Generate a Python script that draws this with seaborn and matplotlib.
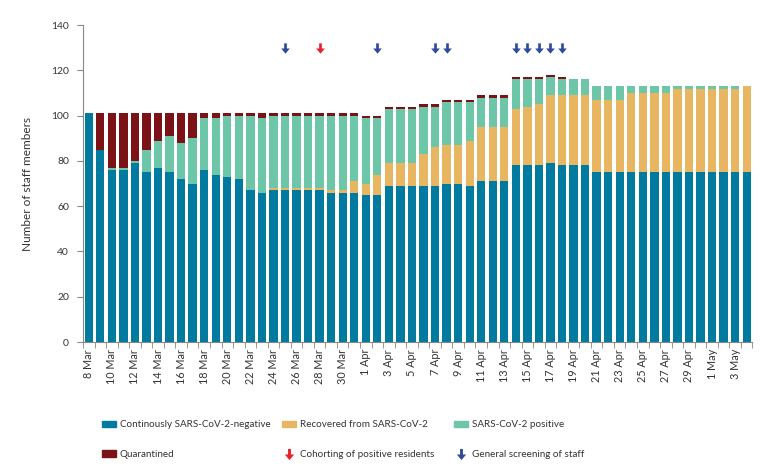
import numpy as np
import pandas as pd
import matplotlib
matplotlib.use("Agg")
import matplotlib.pyplot as plt
from matplotlib.lines import Line2D
from matplotlib.patches import Patch
import seaborn as sns

# Data: staff status per day, 8 Mar - 4 May
dates = pd.date_range("2020-03-08", "2020-05-04", freq="D")
day_labels = [f"{d.day} {d.strftime('%b')}" for d in dates]

negative = [101, 85, 76, 76, 79, 75, 77, 75, 72, 70, 76, 74, 73, 72, 67, 66,
            67, 67, 67, 67, 67, 66, 66, 66, 65, 65, 69, 69, 69, 69, 69, 70,
            70, 69, 71, 71, 71, 78, 78, 78, 79, 78, 78, 78,
            75, 75, 75, 75, 75, 75, 75, 75, 75, 75, 75, 75, 75, 75]
recovered = [0, 0, 0, 0, 0, 0, 0, 0, 0, 0, 0, 0, 0, 0, 0, 0,
             1, 1, 1, 1, 1, 1, 1, 5, 5, 9, 10, 10, 10, 14, 17, 17,
             17, 20, 24, 24, 24, 25, 26, 27, 30, 31, 31, 31,
             32, 32, 32, 35, 35, 35, 35, 37, 37, 37, 37, 37, 37, 38]
positive = [0, 0, 1, 1, 1, 10, 12, 16, 16, 20, 23, 25, 27, 28, 33, 33,
            32, 32, 32, 32, 32, 33, 33, 29, 29, 25, 24, 24, 24, 21, 18, 19,
            19, 17, 13, 13, 13, 13, 12, 11, 8, 7, 7, 7,
            6, 6, 6, 3, 3, 3, 3, 1, 1, 1, 1, 1, 1, 0]
quarantined = [0, 16, 24, 24, 21, 16, 12, 10, 13, 11, 2, 2, 1, 1, 1, 2,
               1, 1, 1, 1, 1, 1, 1, 1, 1, 1, 1, 1, 1, 1, 1, 1,
               1, 1, 1, 1, 1, 1, 1, 1, 1, 1, 0, 0,
               0, 0, 0, 0, 0, 0, 0, 0, 0, 0, 0, 0, 0, 0]

cohorting_days = ["28 Mar"]
screening_days = ["25 Mar", "2 Apr", "7 Apr", "8 Apr", "14 Apr", "15 Apr",
                  "16 Apr", "17 Apr", "18 Apr"]

c_neg = "#007a9e"
c_rec = "#e8b560"
c_pos = "#6ec6a8"
c_qua = "#7b1216"
c_red = "#e8202a"
c_blue = "#2f4a9c"

sns.set_style("white")
plt.rcParams["font.family"] = ["Lato", "DejaVu Sans"]

df = pd.DataFrame({"day": day_labels, "neg": negative, "rec": recovered,
                   "pos": positive, "qua": quarantined})
df["pos_top"] = df["neg"] + df["rec"] + df["pos"]
df["rec_top"] = df["neg"] + df["rec"]
df["qua_top"] = df["pos_top"] + df["qua"]

fig = plt.figure(figsize=(7.83, 4.75), dpi=100)
ax = fig.add_axes([0.106, 0.28, 0.855, 0.667])

# stacked by overdrawing cumulative totals
for col, color in [("qua_top", c_qua), ("pos_top", c_pos),
                   ("rec_top", c_rec), ("neg", c_neg)]:
    sns.barplot(data=df, x="day", y=col, color=color, width=0.72,
                errorbar=None, saturation=1, linewidth=0, ax=ax)

# event arrows
arrow = [(-0.13, 0.5), (0.13, 0.5), (0.13, 0.0), (0.42, 0.0), (0.0, -0.5),
         (-0.42, 0.0), (-0.13, 0.0)]
pos_of = {d: i for i, d in enumerate(day_labels)}
ax.scatter([pos_of[d] for d in screening_days], [130] * len(screening_days),
           marker=arrow, s=55, color=c_blue, linewidths=0, zorder=5)
ax.scatter([pos_of[d] for d in cohorting_days], [130] * len(cohorting_days),
           marker=arrow, s=55, color=c_red, linewidths=0, zorder=5)

ax.set_ylim(0, 140)
ax.set_xlim(-0.5, len(day_labels) - 0.5)
ax.set_yticks(range(0, 141, 20))
ax.set_ylabel("Number of staff members", fontsize=8.5, color="#333333",
              labelpad=13)
ax.set_xlabel("")

ticks = list(range(0, len(day_labels), 2))
ax.set_xticks(ticks)
ax.set_xticklabels([day_labels[i] for i in ticks], rotation=90,
                   fontsize=7.8, color="#333333")
ax.set_xticks(np.arange(-0.5, len(day_labels), 1), minor=True)
ax.tick_params(axis="x", which="major", length=0, pad=5)
ax.tick_params(axis="x", which="minor", length=4, color="#888888",
               direction="out", bottom=True)
ax.tick_params(axis="y", length=4, color="#888888", direction="out",
               left=True, labelsize=7.5, labelcolor="#333333", pad=6)

sns.despine(ax=ax)
for s in ["left", "bottom"]:
    ax.spines[s].set_color("#888888")
    ax.spines[s].set_linewidth(0.8)

# legend: three columns placed like the original
columns = [
    [Patch(color=c_neg, label="Continously SARS-CoV-2-negative"),
     Patch(color=c_qua, label="Quarantined")],
    [Patch(color=c_rec, label="Recovered from SARS-CoV-2"),
     Line2D([], [], linestyle="none", marker=arrow, markersize=8,
            color=c_red, markeredgewidth=0, label="Cohorting of positive residents")],
    [Patch(color=c_pos, label="SARS-CoV-2 positive"),
     Line2D([], [], linestyle="none", marker=arrow, markersize=8,
            color=c_blue, markeredgewidth=0, label="General screening of staff")],
]
for hs, x in zip(columns, [0.13, 0.36, 0.58]):
    leg = fig.legend(handles=hs, loc="upper left", bbox_to_anchor=(x, 0.115),
                     frameon=False, fontsize=7.1, handlelength=1.45,
                     handleheight=0.6, handletextpad=0.35, labelspacing=2.1,
                     borderpad=0, borderaxespad=0)
    for t in leg.get_texts():
        t.set_color("#333333")

fig.savefig("out.png", dpi=100)
